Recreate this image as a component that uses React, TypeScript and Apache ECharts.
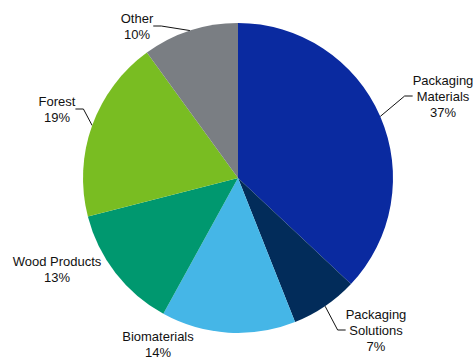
import React, { useEffect, useRef } from "react";
import * as echarts from "echarts";

const categories = ["Packaging\nMaterials", "Packaging\nSolutions", "Biomaterials", "Wood Products", "Forest", "Other"];
const values = [37, 7, 14, 13, 19, 10];
const colors = ["#0a2aa0", "#022c5a", "#45b6e7", "#00986f", "#79bd22", "#7a7e83"];
const showLines = [true, true, false, false, true, true];
// label centre positions (layout only)
const labelPos: [number, number][] = [
  [443, 96],
  [376, 330],
  [158, 344],
  [57, 269],
  [57, 109],
  [137, 26],
];

export default function App() {
  const ref = useRef<HTMLDivElement>(null);
  useEffect(() => {
    if (!ref.current) return;
    const chart = echarts.init(ref.current, undefined, { renderer: "svg" });
    chart.setOption({
      animation: false,
      backgroundColor: "#ffffff",
      series: [
        {
          type: "pie",
          center: [238, 178],
          radius: [0, 155],
          startAngle: 90,
          clockwise: true,
          avoidLabelOverlap: false,
          data: categories.map((name, i) => ({
            name,
            value: values[i],
            itemStyle: { color: colors[i] },
            labelLine: { show: showLines[i] },
          })),
          itemStyle: { borderWidth: 0 },
          label: {
            show: true,
            position: "outside",
            formatter: (p: any) => `${p.name}\n${p.value}%`,
            fontFamily: "Liberation Sans, Arial, sans-serif",
            fontSize: 13,
            lineHeight: 16,
            color: "#111111",
            align: "center",
          },
          labelLine: {
            show: true,
            length: 10,
            length2: 8,
            lineStyle: { color: "#111111", width: 1 },
          },
          labelLayout: (params: any) => {
            const [x, y] = labelPos[params.dataIndex];
            return { x, y, align: "center", verticalAlign: "middle" };
          },
        },
      ],
    });
    return () => chart.dispose();
  }, []);
  return (
    <div
      ref={ref}
      style={{ position: "fixed", left: 0, top: 0, width: 473, height: 358 }}
    />
  );
}
